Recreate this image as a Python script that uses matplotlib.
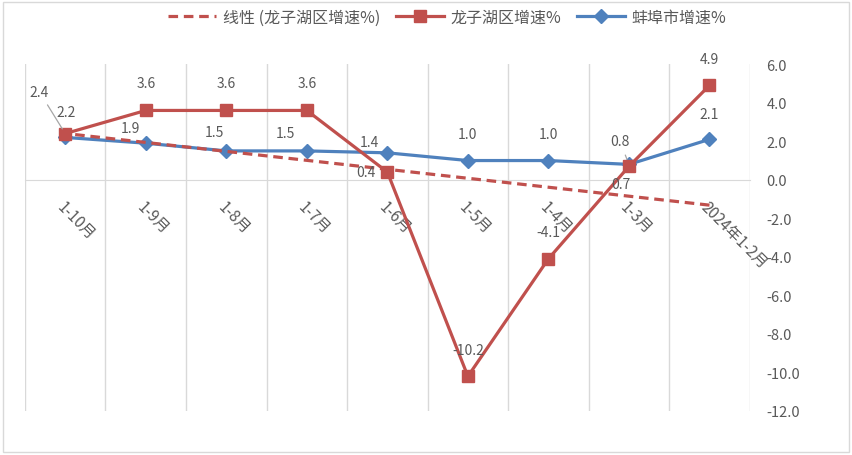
import numpy as np
import matplotlib
matplotlib.use('Agg')
import matplotlib.pyplot as plt
from matplotlib.lines import Line2D
from matplotlib.patches import Rectangle

plt.rcParams['font.family'] = ['Noto Sans CJK SC', 'DejaVu Sans']

# data, in month order (the picture shows it right to left)
months = ['2024年1-2月', '1-3月', '1-4月', '1-5月', '1-6月', '1-7月', '1-8月', '1-9月', '1-10月']
bengbu = [2.1, 0.8, 1.0, 1.0, 1.4, 1.5, 1.5, 1.9, 2.2]
longzihu = [4.9, 0.7, -4.1, -10.2, 0.4, 3.6, 3.6, 3.6, 2.4]
yticks = [6, 4, 2, 0, -2, -4, -6, -8, -10, -12]

name_bb = '蚌埠市增速%'
name_lzh = '龙子湖区增速%'
name_trend = '线性 (龙子湖区增速%)'

# where the value labels sit, in pixels from the point
off_bb = [(0, 25), (-9, 23), (0, 27), (0, 27), (-18, 11), (-21, 18), (-12, 19), (-15, 15), (1, 25)]
off_lzh = [(0, 26), (-8, -18), (0, 27), (0, 26), (-21, 0), (0, 27), (0, 27), (0, 27), (-26, 42)]
leader_bb = [1]
leader_lzh = [8]

blue = '#4f81bd'
red = '#c0504d'
txt = '#595959'
grid = '#d9d9d9'

fig = plt.figure(figsize=(8.52, 4.56), dpi=100)
ax = fig.add_axes([0.0293, 0.0965, 0.8507, 0.7605])

# spine first: moving it resets the tick labels
for s in ['top', 'left', 'right']:
    ax.spines[s].set_visible(False)
ax.spines['bottom'].set_position(('data', 0))
ax.spines['bottom'].set_color(grid)

x = np.arange(len(months))
ax.plot(x, bengbu, color=blue, lw=2.3, marker='D', ms=7, zorder=3)
ax.plot(x, longzihu, color=red, lw=2.3, marker='s', ms=9, zorder=5)
k, b = np.polyfit(x, longzihu, 1)
xe = np.array([x[0], x[-1]])
ax.plot(xe, k * xe + b, color=red, lw=2.3, ls=(0, (3, 1.8)), zorder=4)

def put_labels(vals, offs, leaders):
    for i, v in enumerate(vals):
        dx, dy = offs[i]
        arrow = None
        if i in leaders:
            arrow = dict(arrowstyle='-', color='#a6a6a6', lw=0.9, shrinkA=3, shrinkB=4)
        ax.annotate('%.1f' % v, (x[i], v), xytext=(dx, dy), textcoords='offset pixels',
                    ha='center', va='center', fontsize=10, color=txt,
                    arrowprops=arrow, zorder=6)

put_labels(bengbu, off_bb, leader_bb)
put_labels(longzihu, off_lzh, leader_lzh)

ax.set_xlim(len(months) - 0.5, -0.5)
ax.set_ylim(-12, 6)

ax.set_xticks(x)
ax.set_xticklabels(months)
ax.set_xticks(np.arange(-0.5, len(months)), minor=True)
ax.tick_params(axis='x', which='both', length=0, pad=13)
plt.setp(ax.get_xticklabels(), rotation=-45, ha='left', va='top', rotation_mode='anchor',
         fontsize=11, color=txt)
ax.grid(True, which='minor', axis='x', color=grid, lw=1)

ax.yaxis.tick_right()
ax.set_yticks(yticks)
ax.set_yticklabels(['%.1f' % t for t in yticks], fontsize=10.5, color=txt)
ax.tick_params(axis='y', length=0, pad=12)

hands = [
    Line2D([], [], color=red, lw=2.3, ls=(0, (3, 1.8))),
    Line2D([], [], color=red, lw=2.3, marker='s', ms=9),
    Line2D([], [], color=blue, lw=2.3, marker='D', ms=7),
]
fig.legend(hands, [name_trend, name_lzh, name_bb], loc='center', bbox_to_anchor=(0.525, 0.96),
           ncol=3, frameon=False, fontsize=11.5, labelcolor=txt, handlelength=3,
           columnspacing=1.0, handletextpad=0.4)

fig.patches.append(Rectangle((0.003, 0.006), 0.994, 0.988, transform=fig.transFigure,
                             fill=False, ec=grid, lw=1))

fig.savefig('out.png', dpi=100)
